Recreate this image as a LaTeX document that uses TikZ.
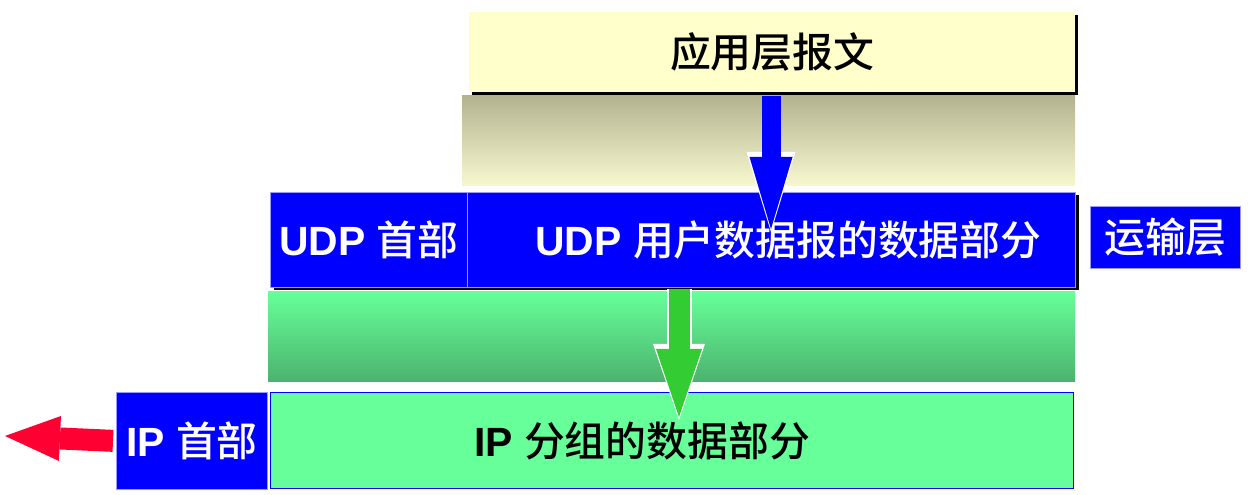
\documentclass[tikz,border=0pt]{standalone}
\usepackage{fontspec}
\setmainfont{Liberation Sans}
\newfontfamily\cjk{Noto Sans CJK SC}[BoldFont=* Medium]
\usepackage{xcolor}
\usepackage{tikz}
\usetikzlibrary{arrows.meta,positioning,shadows}
\definecolor{msgyellow}{HTML}{FFFFCC}
\definecolor{bandtop}{HTML}{B3B391}
\definecolor{bandbot}{HTML}{F8F8D0}
\definecolor{greentop}{HTML}{66FF99}
\definecolor{greenbot}{HTML}{4CB26E}
\definecolor{ipgreen}{HTML}{66FF99}
\definecolor{arrgreen}{HTML}{33CC33}
\definecolor{arrred}{HTML}{FF0033}
\newcommand{\zh}[1]{{\cjk #1}}
\tikzset{
  txt/.style={font=\fontsize{41}{46}\selectfont\bfseries},
  shd/.style={drop shadow={shadow xshift=3bp,shadow yshift=-3bp,fill=black,opacity=1}},
  bluebox/.style={txt,fill=blue,draw=blue!40!white,line width=1bp,text=white,inner sep=0pt,anchor=north west},
  msgbox/.style={txt,fill=msgyellow,inner sep=0pt,anchor=north west,shd},
  ipbox/.style={txt,fill=ipgreen,draw=blue,line width=1.2bp,inner sep=0pt,anchor=north west}
}
\begin{document}
\begin{tikzpicture}[x=1bp,y=-1bp]
\useasboundingbox (0,0) rectangle (1255,495);
% shaded bands
\shade[top color=bandtop,bottom color=bandbot] (462,96) rectangle (1075,186);
\shade[top color=greentop,bottom color=greenbot] (268,292) rectangle (1075,382);
% boxes
\node[msgbox,minimum width=606bp,minimum height=80bp] (msg) at (469,12) {\zh{应用层报文}};
\node[bluebox,shd,minimum width=197bp,minimum height=95bp] (udph) at (270,192) {UDP \zh{首部}};
\node[bluebox,shd,minimum width=608bp,minimum height=95bp] (udpd) at (467,192) {\hspace*{34bp}UDP \zh{用户数据报的数据部分}};
\node[bluebox,minimum width=150bp,minimum height=62bp] (layer) at (1090,206) {\zh{运输层}};
\node[bluebox,minimum width=151bp,minimum height=97bp] (iph) at (116,392) {IP \zh{首部}};
\node[ipbox,minimum width=803bp,minimum height=96bp] (ipd) at (270,392) {IP \zh{分组的数据部分}\hspace*{60bp}};
% block arrows
\coordinate (btip) at (771,232);
\coordinate (gtip) at (679,420);
\coordinate (rtip) at (5,436);
\draw[white,line width=19bp,-{Triangle[width=49bp,length=80bp,line width=0pt]}] ([yshift=-4bp]msg.south -| btip) -- (btip);
\draw[blue,line width=19bp,shorten >=3bp,-{Triangle[width=43bp,length=72bp,line width=0pt]}] ([yshift=-4bp]msg.south -| btip) -- (btip);
\draw[white,line width=25bp,-{Triangle[width=52bp,length=76bp,line width=0pt]}] ([yshift=-1bp]udpd.south -| gtip) -- (gtip);
\draw[arrgreen,line width=21bp,shorten >=3bp,-{Triangle[width=46bp,length=68bp,line width=0pt]}] ([yshift=-1bp]udpd.south -| gtip) -- (gtip);
\draw[arrred,line width=22bp,shorten <=3bp,-{Triangle[width=45bp,length=55bp,line width=0pt]}] (iph.west) -- (rtip);
\end{tikzpicture}
\end{document}
